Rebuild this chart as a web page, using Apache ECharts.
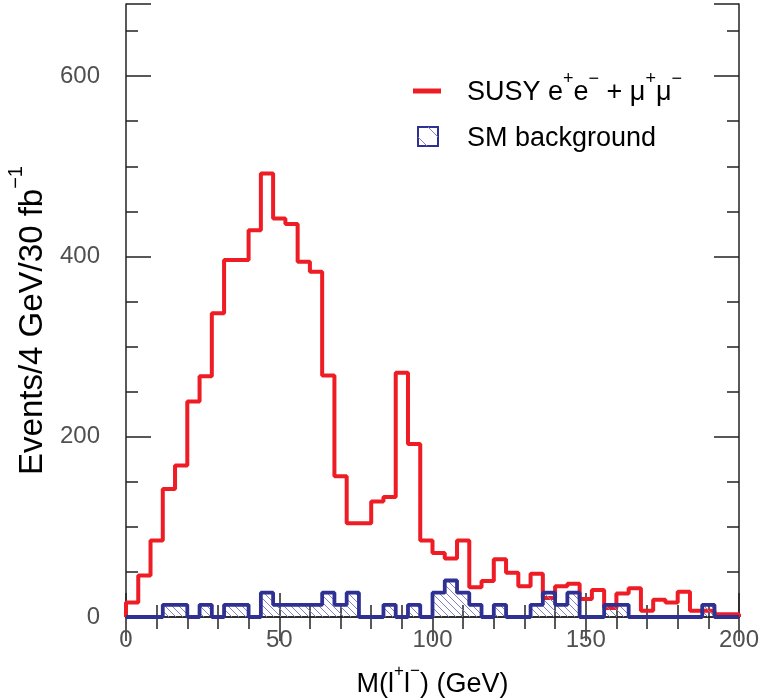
<!DOCTYPE html>
<html>
<head>
<meta charset="utf-8">
<script src="https://cdn.jsdelivr.net/npm/echarts@6/dist/echarts.min.js"></script>
<style>html,body{margin:0;padding:0;background:#fff;overflow:hidden;}#c{width:764px;height:698px;}</style>
</head>
<body>
<div id="c"></div>
<script>
// Bin edges in GeV (4 GeV bins from 0 to 200)
const binEdges = [0,4,8,12,16,20,24,28,32,36,40,44,48,52,56,60,64,68,72,76,80,84,88,92,96,100,
  104,108,112,116,120,124,128,132,136,140,144,148,152,156,160,164,168,172,176,180,184,188,192,196,200];
// SUSY e+e- + mu+mu- (events / 4 GeV / 30 fb^-1)
const susyValues = [16,46,85,142,168,239,267,337,396,396,429,492,442,436,394,383,268,156,104,104,
  128,133,271,192,85,71,65,85,33,40,64,49,34,48,21,34,37,20,30,10,26,32,7,19,16,28,7,7,3,3];
// SM background
const smValues = [0,0,0,13.5,13.5,0,13.5,0,13.5,13.5,0,27,13.5,13.5,13.5,13.5,27,13.5,27,0,
  0,13.5,0,13.5,0,27,40.5,27,13.5,0,13.5,0,0,13.5,27,13.5,27,0,0,13.5,13.5,0,0,0,0,0,0,13.5,0,0];
const xTicks = [0,50,100,150,200];
const yTickLabels = [0,200,400,600];

const RED = '#ee1c25', NAVY = '#2e3192', FONT = 'Liberation Sans';

function stepData(vals){
  const d = [[binEdges[0], 0]];
  for (let i = 0; i < vals.length; i++) d.push([binEdges[i], vals[i]]);
  d.push([binEdges[binEdges.length-1], vals[vals.length-1]]);
  d.push([binEdges[binEdges.length-1], 0]);
  return d;
}

// hatch pattern
const hc = document.createElement('canvas');
hc.width = 7; hc.height = 7;
const hx = hc.getContext('2d');
hx.strokeStyle = '#8080c8'; hx.lineWidth = 1;
for (const o of [-7, 0, 7]) { hx.beginPath(); hx.moveTo(o-1, -1); hx.lineTo(o+8, 8); hx.stroke(); }

const chart = echarts.init(document.getElementById('c'), null, {renderer: 'canvas', width: 764, height: 698});
const axisLine = {show: true, lineStyle: {color: '#222', width: 1.5}};
const tickStyle = {color: '#222', width: 1.5};
const labelStyle = {fontFamily: FONT, fontSize: 24, color: '#505050'};
const supRich = (fs, sfs) => ({
  n: {fontFamily: FONT, fontSize: fs, color: '#000', verticalAlign: 'bottom', lineHeight: Math.round(fs*1.3)},
  s: {fontFamily: FONT, fontSize: sfs, color: '#000', verticalAlign: 'top', lineHeight: Math.round(fs*1.3)}
});
const YMAX = 680;
function yAx(pos, interval, len, labels, line){
  return {type: 'value', position: pos, min: 0, max: YMAX, interval: interval,
    axisLine: line ? axisLine : {show: false},
    axisTick: {show: true, inside: true, length: len, lineStyle: tickStyle},
    axisLabel: labels ? {show: true, margin: 26, ...labelStyle,
      formatter: v => yTickLabels.includes(v) ? String(v) : ''} : {show: false},
    splitLine: {show: false}};
}
function xAx(pos, labels){
  return {type: 'value', position: pos, min: 0, max: 200, interval: 50,
    axisLine: axisLine,
    axisTick: {show: true, inside: true, length: 24, lineStyle: tickStyle},
    minorTick: {show: true, splitNumber: 5, length: 12, lineStyle: tickStyle},
    axisLabel: labels ? {show: true, margin: 11, ...labelStyle,
      formatter: v => xTicks.includes(v) ? String(v) : ''} : {show: false},
    splitLine: {show: false}};
}
const xa0 = xAx('bottom', true);
xa0.name = '{n|M(l}{s|+}{n|l}{s|−}{n|) (GeV)}';
xa0.nameLocation = 'middle';
xa0.nameGap = 46;
xa0.nameTextStyle = {rich: supRich(27, 17)};
const ya0 = yAx('left', 200, 25, true, true);
ya0.name = '{n|Events/4 GeV/30 fb}{s|−1}';
ya0.nameLocation = 'middle';
ya0.nameRotate = 90;
ya0.nameGap = 76;
ya0.nameTextStyle = {rich: supRich(33, 20), padding: [0, 20, 0, 0]};

const legRich = (c) => ({
  n: {fontFamily: FONT, fontSize: 27, color: c, verticalAlign: 'bottom', lineHeight: 36},
  s: {fontFamily: FONT, fontSize: 18, color: c, verticalAlign: 'top', lineHeight: 36}
});

chart.setOption({
  animation: false,
  backgroundColor: '#fff',
  grid: {left: 126, right: 25, top: 4, bottom: 81, containLabel: false, outerBoundsMode: 'none'},
  xAxis: [xa0, xAx('top', false)],
  yAxis: [ya0, yAx('left', 50, 12, false, false), yAx('right', 200, 25, false, true), yAx('right', 50, 12, false, false)],
  series: [
    {type: 'line', name: 'SUSY', step: 'end', data: stepData(susyValues), showSymbol: false, symbol: 'none',
      lineStyle: {color: RED, width: 4}, z: 3, clip: false},
    {type: 'line', name: 'SM', step: 'end', data: stepData(smValues), showSymbol: false, symbol: 'none',
      lineStyle: {color: NAVY, width: 3.8},
      areaStyle: {color: {image: hc, repeat: 'repeat'}, opacity: 1}, z: 4, clip: false}
  ],
  graphic: [
    {type: 'line', shape: {x1: 413, y1: 91, x2: 441, y2: 91}, style: {stroke: RED, lineWidth: 5}},
    {type: 'rect', shape: {x: 418, y: 127, width: 20, height: 19}, style: {fill: '#fff', stroke: NAVY, lineWidth: 2}},
    {type: 'line', shape: {x1: 418, y1: 137, x2: 427, y2: 146}, style: {stroke: '#8080c8', lineWidth: 1}},
    {type: 'line', shape: {x1: 428, y1: 127, x2: 438, y2: 137}, style: {stroke: '#8080c8', lineWidth: 1}},
    {type: 'text', left: 467, top: 70, style: {
      text: '{n|SUSY e}{s|+}{n|e}{s|−}{n| + μ}{s|+}{n|μ}{s|−}', rich: legRich(RED)}},
    {type: 'text', left: 467, top: 125, style: {
      text: '{n|SM background}', rich: legRich(NAVY)}}
  ]
});
</script>
</body>
</html>
